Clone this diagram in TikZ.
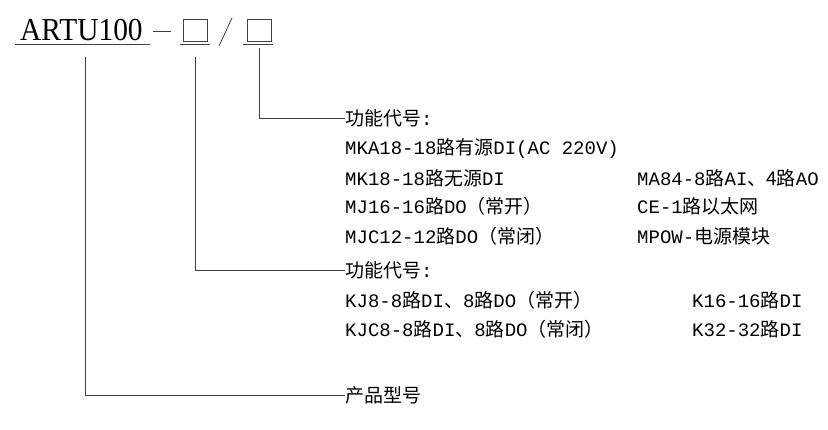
\documentclass[tikz,border=0pt]{standalone}
\usepackage{fontspec}
\setmainfont{Liberation Mono}
\newfontfamily\cjkf{Noto Sans CJK SC}
\newcommand{\zh}[1]{{\cjkf #1}}
\newfontfamily\titlefont{Liberation Serif}
\begin{document}
\begin{tikzpicture}[x=1pt,y=-1pt,
  lbl/.style={anchor=west,inner sep=0pt,font=\fontsize{19}{19}\selectfont},
  ln/.style={draw=black!75,line width=0.8pt}]
\useasboundingbox (0,0) rectangle (828,429);
\node[anchor=west,inner sep=0pt,font=\titlefont\fontsize{32}{32}\selectfont,xscale=0.92] (t) at (20,30) {ARTU100};
\draw[ln] (15,44) -- (150,44);
\draw[ln] (153,31) -- (171,31);
\draw[ln] (183,19) rectangle (207,41);
\draw[ln] (180,44) -- (210,44);
\draw[ln] (232,18) -- (219,46);
\draw[ln] (247,19) rectangle (271,41);
\draw[ln] (243,44) -- (273,44);
\coordinate (a) at (85,57); \coordinate (b) at (195,57); \coordinate (c) at (259,48);
\node[lbl] (p) at (345,395) {\zh{产品型号}};
\node[lbl] (f1) at (345,270) {\zh{功能代号}:};
\node[lbl] (f2) at (345,118) {\zh{功能代号}:};
\draw[ln] (a) |- (p.west);
\draw[ln] (b) |- (f1.west);
\draw[ln] (c) |- (f2.west);
\node[lbl] at (345,148) {MKA18-18\zh{路有源}DI(AC 220V)};
\node[lbl] at (345,178) {MK18-18\zh{路无源}DI};
\node[lbl] at (345,206) {MJ16-16\zh{路}DO\zh{（常开）}};
\node[lbl] at (345,236) {MJC12-12\zh{路}DO\zh{（常闭）}};
\node[lbl] at (637,178) {MA84-8\zh{路}AI\zh{、4路}AO};
\node[lbl] at (637,206) {CE-1\zh{路以太网}};
\node[lbl] at (637,236) {MPOW-\zh{电源模块}};
\node[lbl] at (345,300) {KJ8-8\zh{路}DI\zh{、}8\zh{路}DO\zh{（常开）}};
\node[lbl] at (345,329) {KJC8-8\zh{路}DI\zh{、}8\zh{路}DO\zh{（常闭）}};
\node[lbl] at (692,300) {K16-16\zh{路}DI};
\node[lbl] at (692,329) {K32-32\zh{路}DI};
\end{tikzpicture}
\end{document}
